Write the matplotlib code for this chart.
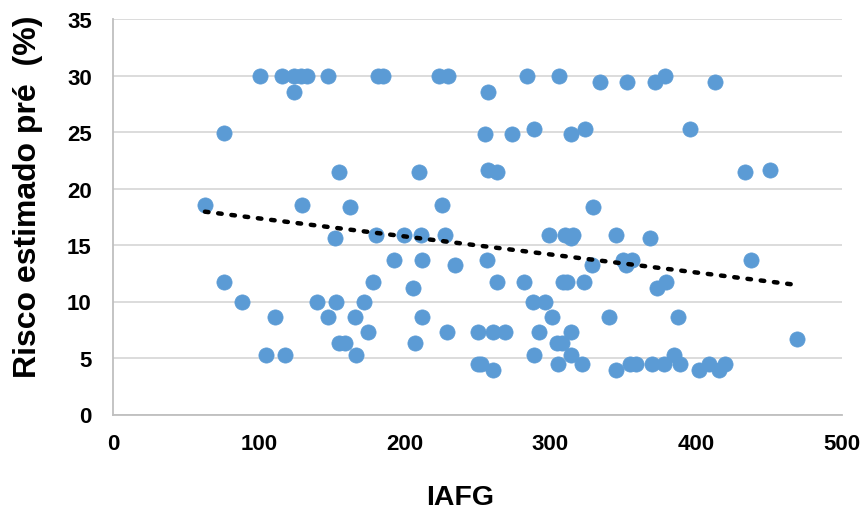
import numpy as np
import matplotlib
matplotlib.use("Agg")
import matplotlib.pyplot as plt

iafg = [
    100.9, 115.6, 124.2, 128.8, 132.7, 147.1, 181.9, 185.3, 223.5, 229.5,
    124.2, 76.0, 154.9, 209.8, 62.9, 129.7, 162.2, 225.8,
    257.0, 283.9, 305.7, 334.0, 352.4, 371.8, 378.7, 413.0,
    254.9, 273.9, 288.7, 314.1, 323.7, 395.8,
    257.4, 263.1, 433.8, 450.9, 329.4,
    152.0, 180.5, 199.7, 211.0, 227.9, 192.7, 211.9, 234.7,
    76.0, 178.0, 205.9, 88.1, 140.0, 152.8, 171.8,
    111.0, 147.1, 165.9, 211.9, 175.0, 228.8, 250.1,
    154.9, 159.0, 207.1, 104.8, 118.0, 166.8, 250.5,
    299.0, 310.0, 315.7, 314.1, 344.8, 368.1,
    256.7, 328.3, 350.0, 355.8, 351.7, 437.7,
    263.1, 281.9, 308.9, 311.2, 322.9, 373.0, 379.1,
    288.3, 296.3, 301.1, 340.0, 387.8,
    260.8, 268.8, 292.2, 304.3, 307.8, 314.1, 469.5,
    288.7, 314.1, 385.0, 252.2, 260.8, 305.0, 321.9, 344.8,
    354.6, 358.8, 369.7, 378.0, 389.0, 401.8, 409.1, 415.9, 420.0,
]
risco = [
    30.0, 30.0, 30.0, 30.0, 30.0, 30.0, 30.0, 30.0, 30.0, 30.0,
    28.5, 24.9, 21.5, 21.5, 18.5, 18.5, 18.4, 18.5,
    28.5, 30.0, 30.0, 29.4, 29.4, 29.4, 30.0, 29.4,
    24.8, 24.8, 25.3, 24.8, 25.3, 25.3,
    21.6, 21.5, 21.5, 21.6, 18.4,
    15.6, 15.9, 15.9, 15.9, 15.9, 13.7, 13.7, 13.2,
    11.7, 11.7, 11.2, 10.0, 10.0, 10.0, 10.0,
    8.6, 8.6, 8.6, 8.6, 7.3, 7.3, 7.3,
    6.3, 6.3, 6.3, 5.3, 5.3, 5.3, 4.5,
    15.9, 15.9, 15.9, 15.6, 15.9, 15.6,
    13.7, 13.2, 13.7, 13.7, 13.2, 13.7,
    11.7, 11.7, 11.7, 11.7, 11.7, 11.2, 11.7,
    10.0, 10.0, 8.6, 8.6, 8.6,
    7.3, 7.3, 7.3, 6.3, 6.3, 7.3, 6.7,
    5.3, 5.3, 5.3, 4.5, 3.9, 4.5, 4.5, 3.9,
    4.5, 4.5, 4.5, 4.5, 4.5, 3.9, 4.5, 3.9, 4.5,
]
x_ticks = [0, 100, 200, 300, 400, 500]
y_ticks = [0, 5, 10, 15, 20, 25, 30, 35]

plt.rcParams['font.family'] = ['Liberation Sans', 'DejaVu Sans']

fig = plt.figure(figsize=(8.66, 5.10), dpi=100)
ax = fig.add_axes([113.3/866, 1-415.5/510, (841.7-113.3)/866, (415.5-20)/510])

x = np.array(iafg)
y = np.array(risco)
ax.scatter(x, y, s=120, color='#5B9BD5', edgecolors='#5B9BD5', linewidths=0.5, zorder=3)

coef = np.polyfit(x, y, 1)
xl = np.array([x.min(), x.max()])
ax.plot(xl, np.polyval(coef, xl), color='black', linestyle=(0, (0.8, 2.2)),
        linewidth=3.2, dash_capstyle='round', zorder=4)

ax.set_xlim(0, 500)
ax.set_ylim(0, 35)
ax.set_xticks(x_ticks)
ax.set_yticks(y_ticks)
ax.set_xticklabels([str(v) for v in x_ticks], fontsize=16, fontweight='bold')
ax.set_yticklabels([str(v) for v in y_ticks], fontsize=16, fontweight='bold')
ax.tick_params(axis='both', length=0)
ax.tick_params(axis='x', pad=13)
ax.tick_params(axis='y', pad=15.5)

ax.grid(axis='y', color='#D9D9D9', linewidth=1.3, zorder=0)
ax.set_axisbelow(True)
for s in ['top', 'right']:
    ax.spines[s].set_visible(False)
for s in ['left', 'bottom']:
    ax.spines[s].set_color('#BFBFBF')
    ax.spines[s].set_linewidth(1.3)

fig.text(460/866, 1-505.5/510, 'IAFG', fontsize=20.5, fontweight='bold',
         ha='center', va='baseline')
fig.text(28.5/866, 1-196.5/510, 'Risco estimado pré  (%)', fontsize=23,
         fontweight='bold', rotation=90, ha='center', va='center')

fig.savefig('out.png', dpi=100)
